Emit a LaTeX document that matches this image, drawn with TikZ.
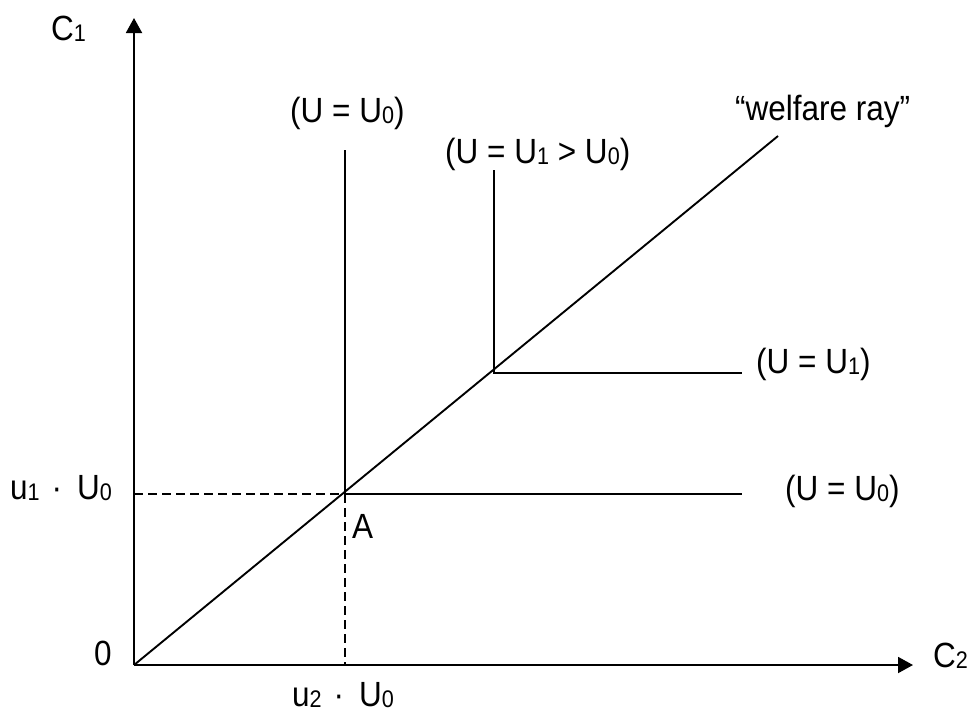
\documentclass[tikz,border=0pt]{standalone}
\usepackage{fontspec}
\setmainfont{Liberation Sans}[FakeStretch=0.9]
\usetikzlibrary{arrows.meta}
\newcommand\sbs[1]{\raisebox{-1.5pt}{\fontsize{24}{25}\selectfont #1}}
\newcommand\mdot{\hspace{12pt}·\hspace{15pt}}
\tikzset{
  curve/.style={line width=1.9pt},
  axis/.style={line width=1.9pt,-{Triangle[length=15pt,width=16pt]}},
  guide/.style={line width=1.9pt,dash pattern=on 9pt off 5pt},
  lab/.style={inner sep=0pt,anchor=base west,font=\fontsize{35}{40}\selectfont}
}
\begin{document}
\begin{tikzpicture}[x=1pt,y=-1pt]
\useasboundingbox (0,0) rectangle (979,713);
\coordinate (O) at (134,665);
\coordinate (ytop) at (134,18);
\coordinate (xend) at (913,665);
\coordinate (A) at (345,494);
\coordinate (B) at (494,373);
\coordinate (R) at (778,136);
\coordinate (Atop) at (345,150);
\coordinate (Btop) at (494,170);
\coordinate (Aright) at (742,494);
\coordinate (Bright) at (742,373);
\coordinate (Ay) at (134,494);
\coordinate (Ax) at (345,665);
% axes
\draw[axis] (O) -- (ytop);
\draw[axis] (O) -- (xend);
% dashed guides
\draw[guide] (Ay) -- (A);
\draw[guide] (A) -- (Ax);
% welfare ray
\draw[curve] (O) -- (R);
% L-shaped indifference curves
\draw[curve] (Atop) -- (A) -- (Aright);
\draw[curve] (Btop) -- (B) -- (Bright);
% labels
\node[lab] (c1) at (51,40) {C\sbs{1}};
\node[lab] (c2) at (933,667) {C\sbs{2}};
\node[lab] (zero) at (94,665) {0};
\node[lab] (alab) at (352,538) {A};
\node[lab] (u1) at (10,499) {u\sbs{1}\mdot U\sbs{0}};
\node[lab] (u2) at (292,706) {u\sbs{2}\mdot U\sbs{0}};
\node[lab] (l1) at (290,122) {(U = U\sbs{0})};
\node[lab] (l2) at (445,163) {(U = U\sbs{1} > U\sbs{0})};
\node[lab] (wr) at (735,120) {“welfare ray”};
\node[lab] (l3) at (756,373) {(U = U\sbs{1})};
\node[lab] (l4) at (785,500) {(U = U\sbs{0})};
\end{tikzpicture}
\end{document}
